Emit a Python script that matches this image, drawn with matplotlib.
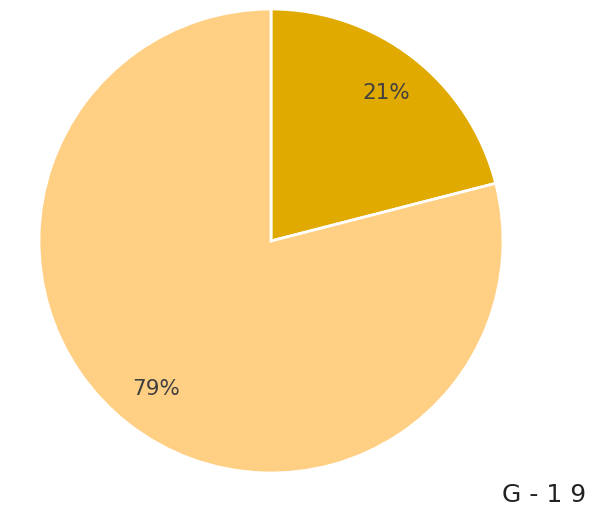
import matplotlib.pyplot as plt

labels = ["A", "B"]
values = [21, 79]
colors = ["#E1AA00", "#FFD084"]

fig = plt.figure(figsize=(5.92, 5.13), dpi=100)
ax = fig.add_axes([39 / 592, 40 / 513, 464 / 592, 464 / 513])

wedges, texts, autotexts = ax.pie(
    values,
    colors=colors,
    startangle=90,
    counterclock=False,
    autopct="%d%%",
    pctdistance=0.81,
    wedgeprops=dict(edgecolor="white", linewidth=2),
    textprops=dict(color="#404040", fontsize=15.5),
    radius=1.0,
)
ax.set_xlim(-1, 1)
ax.set_ylim(-1, 1)
ax.axis("off")

fig.text(0.919, 0.035, "G - 1 9", fontsize=18, color="#222222", ha="center", va="center")

fig.savefig("out.png", dpi=100)
